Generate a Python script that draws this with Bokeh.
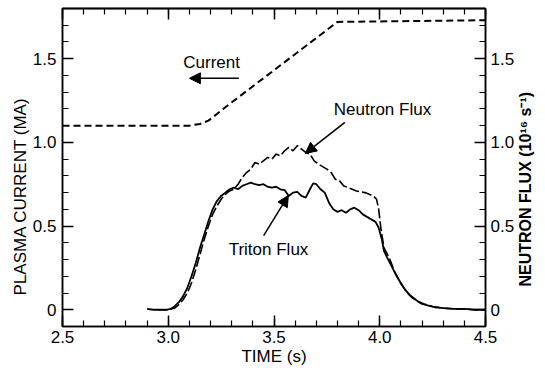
from bokeh.plotting import figure
from bokeh.models import (LinearAxis, FixedTicker, Label, Arrow, NormalHead,
                          Range1d, Title)
from bokeh.embed import file_html
from bokeh.resources import INLINE
import math

# ---------------- data ----------------
current_t = [2.50, 3.10, 3.15, 3.19, 3.23, 3.27, 3.80, 4.50]
current_ma = [1.10, 1.10, 1.11, 1.13, 1.17, 1.21, 1.72, 1.73]

triton_t = [2.90, 2.93, 2.96, 2.99, 3.01, 3.03, 3.05, 3.07, 3.09, 3.11, 3.13, 3.15,
            3.17, 3.19, 3.21, 3.23, 3.25, 3.27, 3.29, 3.31, 3.33, 3.35, 3.37, 3.39,
            3.41, 3.43, 3.45, 3.47, 3.49, 3.51, 3.53, 3.55, 3.57, 3.59, 3.61, 3.63,
            3.65, 3.67, 3.685, 3.70, 3.72, 3.74, 3.76, 3.78, 3.80, 3.82, 3.84, 3.86,
            3.88, 3.90, 3.92, 3.94, 3.96, 3.98, 3.995, 4.01, 4.02, 4.04, 4.06, 4.08,
            4.10, 4.12, 4.14, 4.16, 4.18, 4.20, 4.23, 4.26, 4.30, 4.35, 4.40, 4.45, 4.50]
triton_flux = [0.005, 0.0, 0.0, 0.0, 0.005, 0.02, 0.045, 0.08, 0.13, 0.20, 0.28, 0.37,
               0.45, 0.53, 0.60, 0.65, 0.68, 0.70, 0.72, 0.73, 0.72, 0.74, 0.75, 0.76,
               0.75, 0.745, 0.75, 0.735, 0.73, 0.735, 0.72, 0.715, 0.68, 0.70, 0.705, 0.68,
               0.67, 0.72, 0.755, 0.75, 0.72, 0.70, 0.64, 0.60, 0.585, 0.595, 0.58, 0.60,
               0.61, 0.595, 0.57, 0.555, 0.54, 0.525, 0.49, 0.42, 0.35, 0.30, 0.25, 0.20,
               0.16, 0.12, 0.09, 0.07, 0.05, 0.035, 0.025, 0.015, 0.01, 0.005, 0.005, 0.0, 0.0]

neutron_t = [2.95, 3.00, 3.03, 3.05, 3.07, 3.09, 3.11, 3.13, 3.15, 3.17, 3.19, 3.21,
             3.23, 3.25, 3.27, 3.29, 3.31, 3.33, 3.35, 3.37, 3.39, 3.41, 3.43, 3.45,
             3.47, 3.49, 3.51, 3.53, 3.55, 3.57, 3.59, 3.61, 3.63, 3.65, 3.67, 3.69,
             3.71, 3.73, 3.75, 3.77, 3.79, 3.81, 3.83, 3.85, 3.87, 3.89, 3.91, 3.93,
             3.95, 3.97, 3.985, 3.995, 4.005, 4.02, 4.045, 4.07, 4.10, 4.125, 4.15, 4.18,
             4.21, 4.25, 4.30, 4.35, 4.40, 4.45, 4.50]
neutron_flux = [0.0, 0.0, 0.01, 0.03, 0.06, 0.10, 0.16, 0.24, 0.33, 0.42, 0.50, 0.57,
                0.62, 0.66, 0.69, 0.71, 0.72, 0.75, 0.79, 0.82, 0.84, 0.88, 0.87, 0.89,
                0.91, 0.90, 0.93, 0.92, 0.95, 0.97, 0.95, 0.98, 0.96, 0.94, 0.93, 0.89,
                0.87, 0.855, 0.84, 0.82, 0.78, 0.77, 0.74, 0.73, 0.72, 0.71, 0.705, 0.70,
                0.69, 0.68, 0.66, 0.60, 0.49, 0.37, 0.31, 0.23, 0.155, 0.11, 0.075, 0.05,
                0.035, 0.02, 0.01, 0.005, 0.005, 0.0, 0.0]

x_ticks = [2.5, 3.0, 3.5, 4.0, 4.5]
x_tick_labels = ["2.5", "3.0", "3.5", "4.0", "4.5"]
y_ticks = [0.0, 0.5, 1.0, 1.5]
y_tick_labels = ["0", "0.5", "1.0", "1.5"]
x_minor = [round(2.5 + 0.1 * i, 2) for i in range(21)]
y_minor = [round(-0.1 + 0.1 * i, 2) for i in range(20)]

note_texts = ["Current", "Neutron Flux", "Triton Flux"]
note_x = [3.205, 4.013, 3.474]
note_y = [1.475, 1.195, 0.358]

arrow_x0 = [3.334, 3.835, 3.451]
arrow_y0 = [1.383, 1.120, 0.443]
arrow_x1 = [3.100, 3.648, 3.568]
arrow_y1 = [1.383, 0.934, 0.683]

FONT = "Liberation Sans"
FS = "17px"

# ---------------- figure ----------------
p = figure(width=545, height=368, output_backend="svg", toolbar_location=None,
           x_range=Range1d(2.5, 4.5), y_range=Range1d(-0.1, 1.8),
           min_border_left=62, min_border_right=56, min_border_top=8,
           min_border_bottom=42, background_fill_color="white",
           border_fill_color="white")
p.xgrid.visible = False
p.ygrid.visible = False
p.outline_line_color = "black"
p.outline_line_width = 1.5


def style_axis(ax, ticks, minor, labels):
    ax.ticker = FixedTicker(ticks=ticks, minor_ticks=minor)
    if labels:
        ax.major_label_overrides = {t: l for t, l in zip(ticks, labels)}
    ax.axis_line_color = "black"
    ax.axis_line_width = 1.5
    ax.major_tick_line_color = "black"
    ax.major_tick_line_width = 1.5
    ax.minor_tick_line_color = "black"
    ax.minor_tick_line_width = 1.2
    ax.major_tick_in = 11
    ax.major_tick_out = 0
    ax.minor_tick_in = 6
    ax.minor_tick_out = 0
    ax.major_label_text_font = FONT
    ax.major_label_text_color = "black"
    ax.major_label_text_font_size = FS
    ax.axis_label_text_color = "black"
    ax.axis_label_text_font = FONT
    ax.axis_label_text_font_size = FS
    ax.axis_label_text_font_style = "normal"


xb = p.xaxis[0]
style_axis(xb, x_ticks, x_minor, x_tick_labels)
xb.major_label_standoff = 4
xb.axis_label = "TIME (s)"
xb.axis_label_standoff = 1

yl = p.yaxis[0]
style_axis(yl, y_ticks, y_minor, y_tick_labels)
yl.major_label_standoff = 6

yr = LinearAxis()
style_axis(yr, y_ticks, y_minor, y_tick_labels)
yr.major_label_standoff = 5
yr.axis_label = "\u00a0" * 9 + "NEUTRON FLUX (10\u00b9\u2076 s\u207b\u00b9)"
yr.axis_label_text_font_size = "16px"
yr.axis_label_text_font_style = "bold"
yr.axis_label_standoff = 8
try:
    yr.axis_label_orientation = math.pi / 2
    yr.axis_label_align = "start"
except Exception:
    pass
p.add_layout(yr, "right")

# top ticks only (no labels): long ticks at major positions, short at minor ones
xt1 = LinearAxis()
style_axis(xt1, [], x_ticks, None)
xt1.minor_tick_in = 11
xt1.minor_tick_line_width = 1.5
xt1.major_label_standoff = 0
p.add_layout(xt1, "above")
xt2 = LinearAxis()
style_axis(xt2, [], x_minor, None)
xt2.major_label_standoff = 0
p.add_layout(xt2, "above")

# left-hand title (reads bottom to top), placed outside the left axis
p.add_layout(Title(text="PLASMA CURRENT (MA)", align="left", offset=31,
                   standoff=0, text_font=FONT, text_font_size=FS,
                   text_font_style="normal", text_color="black"), "left")

# ---------------- curves ----------------
p.line(current_t, current_ma, line_color="black", line_width=2, line_dash="7 4")
p.line(neutron_t, neutron_flux, line_color="black", line_width=1.6, line_dash="10 3")
p.line(triton_t, triton_flux, line_color="black", line_width=1.8)

# ---------------- annotations ----------------
for t, x, y in zip(note_texts, note_x, note_y):
    p.add_layout(Label(x=x, y=y, text=t, text_align="center",
                       text_baseline="alphabetic", text_font=FONT,
                       text_font_size=FS, text_color="black"))

for a, b, c, d in zip(arrow_x0, arrow_y0, arrow_x1, arrow_y1):
    p.add_layout(Arrow(x_start=a, y_start=b, x_end=c, y_end=d,
                       line_color="black", line_width=1.5,
                       end=NormalHead(size=11, fill_color="black",
                                      line_color="black", line_width=1)))

open("out.html", "w").write(file_html(p, INLINE))
